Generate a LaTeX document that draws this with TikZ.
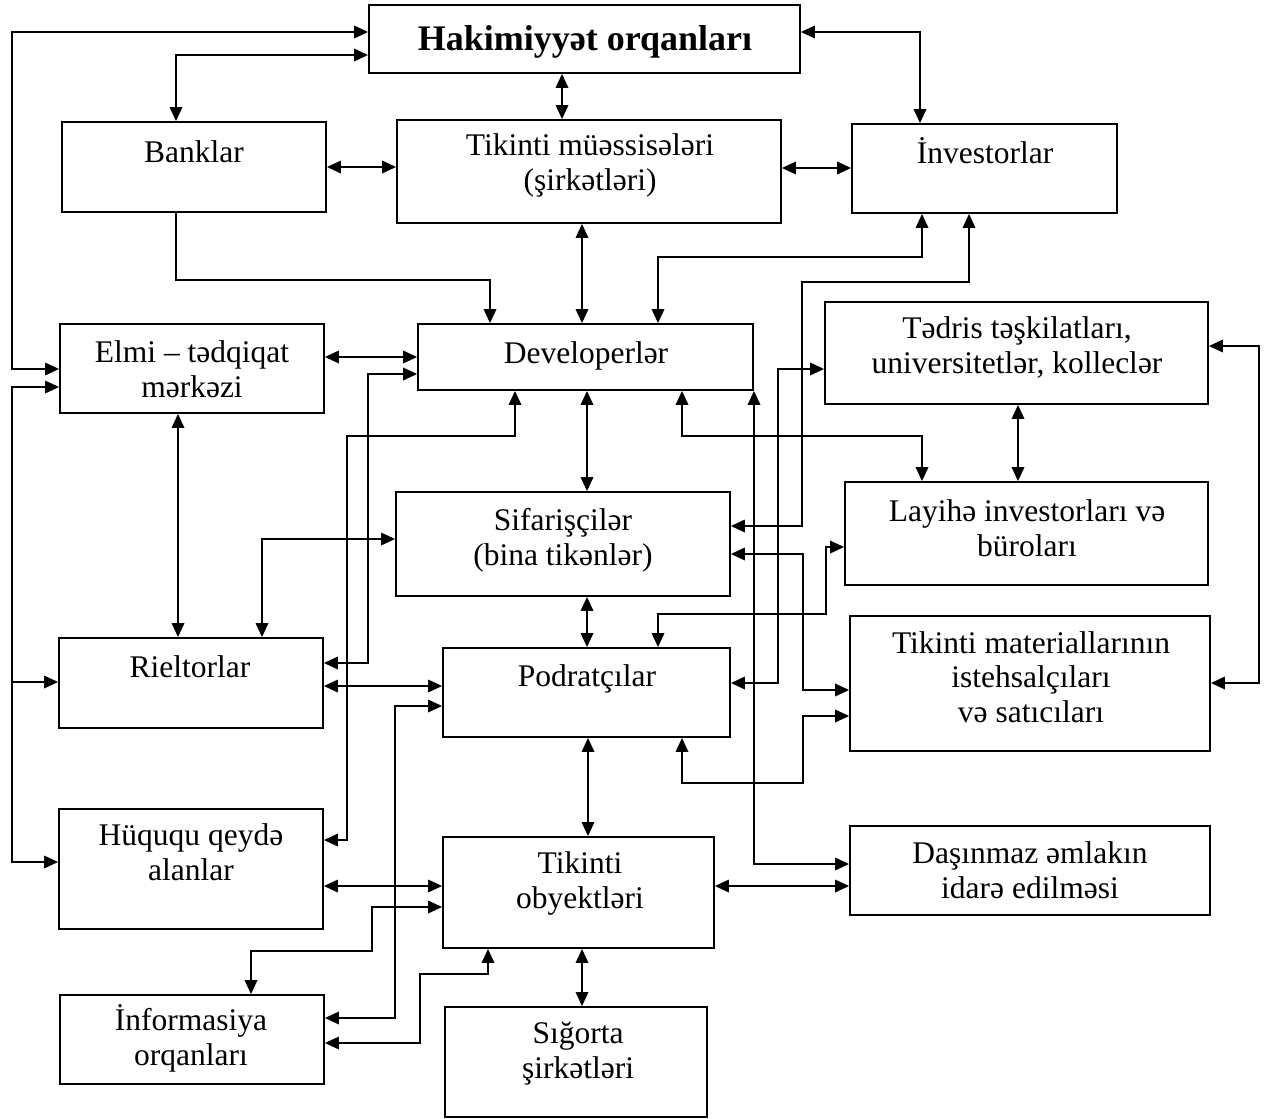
\documentclass[tikz,border=0pt]{standalone}
\usepackage{fontspec}
\setmainfont{Liberation Serif}
\usetikzlibrary{arrows.meta}
\begin{document}
\begin{tikzpicture}[x=1pt,y=-1pt,
  box/.style={draw,line width=1.8pt,inner sep=0pt,rectangle},
  txt/.style={anchor=base,align=center,inner sep=0pt,font=\fontsize{31.5}{34.5}\selectfont},
  cn/.style={line width=1.8pt},
  >={Triangle[length=14pt,width=12.5pt]}]
\useasboundingbox (0,0) rectangle (1269,1119);
% boxes
\node[box,minimum width=431pt,minimum height=68pt] (hak) at (584.5,39) {};
\node[box,minimum width=264pt,minimum height=90pt] (bank) at (194,167) {};
\node[box,minimum width=384pt,minimum height=103pt] (tms) at (589,171.5) {};
\node[box,minimum width=265pt,minimum height=89pt] (inv) at (984.5,168.5) {};
\node[box,minimum width=264pt,minimum height=89pt] (elmi) at (192,368.5) {};
\node[box,minimum width=335pt,minimum height=66pt] (dev) at (585.5,357) {};
\node[box,minimum width=383pt,minimum height=102pt] (tedris) at (1016.5,353) {};
\node[box,minimum width=363pt,minimum height=103pt] (layihe) at (1026.5,533.5) {};
\node[box,minimum width=334pt,minimum height=104pt] (sif) at (563,544) {};
\node[box,minimum width=264pt,minimum height=90pt] (riel) at (191,683) {};
\node[box,minimum width=287pt,minimum height=89pt] (podr) at (586.5,692.5) {};
\node[box,minimum width=360pt,minimum height=135pt] (mat) at (1030,683.5) {};
\node[box,minimum width=264pt,minimum height=120pt] (huq) at (191,869) {};
\node[box,minimum width=271pt,minimum height=111pt] (obj) at (578.5,892.5) {};
\node[box,minimum width=360pt,minimum height=89pt] (das) at (1030,870.5) {};
\node[box,minimum width=264pt,minimum height=89pt] (info) at (192,1039.5) {};
\node[box,minimum width=262pt,minimum height=110pt] (sig) at (576,1062) {};
% texts (anchor base = baseline of the last line)
\node[txt,font=\fontsize{36}{40}\selectfont\bfseries] (hakT) at (585,50) {Hakimiyyət orqanları};
\node[txt] (bankT) at (194,162) {Banklar};
\node[txt] (tmsT) at (590,190) {Tikinti müəssisələri\\(şirkətləri)};
\node[txt] (invT) at (985,163) {İnvestorlar};
\node[txt] (elmiT) at (192,397) {Elmi – tədqiqat\\mərkəzi};
\node[txt] (devT) at (586,363) {Developerlər};
\node[txt] (tedT) at (1017,373) {Tədris təşkilatları,\\universitetlər, kolleclər};
\node[txt] (layT) at (1027,556) {Layihə investorları və\\büroları};
\node[txt] (sifT) at (563,565) {Sifarişçilər\\(bina tikənlər)};
\node[txt] (rielT) at (190,677) {Rieltorlar};
\node[txt] (podrT) at (587,686) {Podratçılar};
\node[txt] (matT) at (1031,722) {Tikinti materiallarının\\istehsalçıları\\və satıcıları};
\node[txt] (huqT) at (191,880) {Hüququ qeydə\\alanlar};
\node[txt] (objT) at (580,908) {Tikinti\\obyektləri};
\node[txt] (dasT) at (1030,898) {Daşınmaz əmlakın\\idarə edilməsi};
\node[txt] (infoT) at (191,1065) {İnformasiya\\orqanları};
\node[txt] (sigT) at (578,1078) {Sığorta\\şirkətləri};
% connectors
\draw[cn,<->] (hak.west |- 0,32) -| (12,369) -- (elmi.west |- 0,369);
\draw[cn,<->] (elmi.west |- 0,387) -| (12,862) -- (huq.west |- 0,862);
\draw[cn,->] (12,682) -- (riel.west |- 0,682);
\draw[cn,<->] (hak.west |- 0,55) -| (176,0 |- bank.north);
\draw[cn,<->] (562,0 |- hak.south) -- (562,0 |- tms.north);
\draw[cn,<->] (hak.east |- 0,32) -| (920,0 |- inv.north);
\draw[cn,<->] (bank.east |- 0,167) -- (tms.west |- 0,167);
\draw[cn,<->] (tms.east |- 0,168) -- (inv.west |- 0,168);
\draw[cn,->] (176,0 |- bank.south) |- (490,280) -- (490,0 |- dev.north);
\draw[cn,<->] (582,0 |- tms.south) -- (582,0 |- dev.north);
\draw[cn,<->] (922,0 |- inv.south) |- (658,257) -- (658,0 |- dev.north);
\draw[cn,<->] (969,0 |- inv.south) |- (802,282) |- (sif.east |- 0,526);
\draw[cn,<->] (682,0 |- dev.south) |- (922,436) -- (922,0 |- layihe.north);
\draw[cn,<->] (515,0 |- dev.south) |- (347,436) |- (huq.east |- 0,840);
\draw[cn,<->] (dev.west |- 0,374) -| (368,663) -- (riel.east |- 0,663);
\draw[cn,<->] (elmi.east |- 0,357) -- (dev.west |- 0,357);
\draw[cn,<->] (178,0 |- elmi.south) -- (178,0 |- riel.north);
\draw[cn,<->] (262,0 |- riel.north) |- (sif.west |- 0,539);
\draw[cn,<->] (587,0 |- dev.south) -- (587,0 |- sif.north);
\draw[cn,<->] (587,0 |- sif.south) -- (587,0 |- podr.north);
\draw[cn,<->] (754,0 |- dev.south) |- (das.west |- 0,864);
\draw[cn,<->] (podr.east |- 0,683) -| (778,369) -- (tedris.west |- 0,369);
\draw[cn,<->] (sif.east |- 0,554) -| (803,690) -- (mat.west |- 0,690);
\draw[cn,<->] (658,0 |- podr.north) |- (826,614) |- (layihe.west |- 0,547);
\draw[cn,<->] (682,0 |- podr.south) |- (803,783) |- (mat.west |- 0,716);
\draw[cn,<->] (tedris.east |- 0,346) -| (1259,683) -- (mat.east |- 0,683);
\draw[cn,<->] (1018,0 |- tedris.south) -- (1018,0 |- layihe.north);
\draw[cn,<->] (riel.east |- 0,686) -- (podr.west |- 0,686);
\draw[cn,<->] (podr.west |- 0,706) -| (395,1018) -- (info.east |- 0,1018);
\draw[cn,<->] (huq.east |- 0,886) -- (obj.west |- 0,886);
\draw[cn,<->] (obj.west |- 0,907) -| (372,951) -| (251,0 |- info.north);
\draw[cn,<->] (488,0 |- obj.south) |- (420,974) |- (info.east |- 0,1043);
\draw[cn,<->] (588,0 |- podr.south) -- (588,0 |- obj.north);
\draw[cn,<->] (obj.east |- 0,886) -- (das.west |- 0,886);
\draw[cn,<->] (582,0 |- obj.south) -- (582,0 |- sig.north);
\end{tikzpicture}
\end{document}
